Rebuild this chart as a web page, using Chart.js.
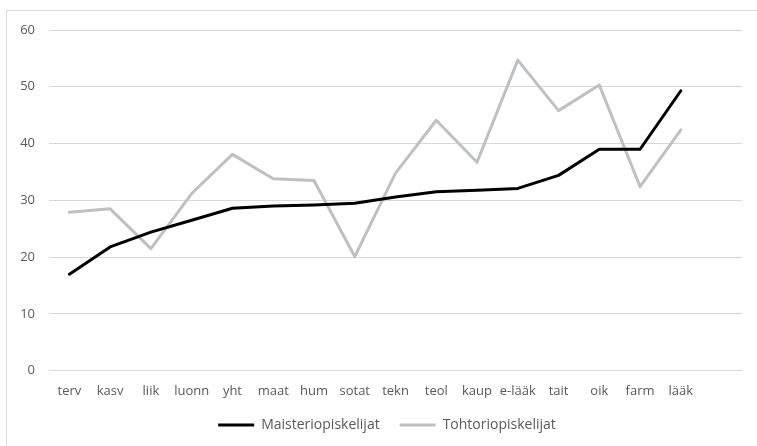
<!DOCTYPE html>
<html>
<head>
<meta charset="utf-8">
<script src="https://cdn.jsdelivr.net/npm/chart.js@4/dist/chart.umd.min.js"></script>
<style>
  html, body { margin: 0; padding: 0; background: #fff; }
  #wrap { width: 757px; height: 446px; }
</style>
</head>
<body>
<div id="wrap"><canvas id="chart" width="757" height="446"></canvas></div>
<script>
  // categories, last slot is left empty like in the original sheet
  var categories = ['terv', 'kasv', 'liik', 'luonn', 'yht', 'maat', 'hum', 'sotat',
      'tekn', 'teol', 'kaup', 'e-lääk', 'tait', 'oik', 'farm', 'lääk'];
  var maisteri = [17.0, 21.8, 24.4, 26.5, 28.6, 29.0, 29.2, 29.5,
      30.6, 31.5, 31.8, 32.1, 34.4, 39.0, 39.0, 49.3];
  var tohtori = [27.9, 28.5, 21.5, 31.2, 38.1, 33.8, 33.5, 20.1,
      34.8, 44.1, 36.7, 54.7, 45.8, 50.3, 32.4, 42.4];
  var yTicks = [0, 10, 20, 30, 40, 50, 60];

  var gridColor = '#d9d9d9';
  var textColor = '#595959';
  var legendPad = 20;

  // outer frame, cut off at right and bottom like the screenshot
  var framePlugin = {
      id: 'frame',
      beforeDraw: function (chart) {
          var ctx = chart.ctx;
          ctx.save();
          ctx.strokeStyle = gridColor;
          ctx.lineWidth = 1;
          ctx.strokeRect(6.5, 10.5, 800, 500);
          ctx.restore();
      }
  };

  // excel centres the legend a bit right of the plot centre
  var legendShift = {
      id: 'legendShift',
      afterLayout: function (chart) {
          var lg = chart.legend;
          var top = 425 - legendPad - 7;
          lg.bottom = top + lg.height;
          lg.top = top;
          lg.left += 16;
          lg.right += 16;
      }
  };

  var ctx = document.getElementById('chart').getContext('2d');
  window.lineChart = new Chart(ctx, {
      type: 'line',
      data: {
          labels: categories.concat(['']),
          datasets: [
              {
                  label: 'Maisteriopiskelijat',
                  data: maisteri,
                  borderColor: '#000000',
                  backgroundColor: '#000000',
                  borderWidth: 3,
                  pointRadius: 0,
                  borderJoinStyle: 'round',
                  borderCapStyle: 'round',
                  tension: 0
              },
              {
                  label: 'Tohtoriopiskelijat',
                  data: tohtori,
                  borderColor: '#bec1c4',
                  backgroundColor: '#bec1c4',
                  borderWidth: 3,
                  pointRadius: 0,
                  borderJoinStyle: 'round',
                  borderCapStyle: 'round',
                  tension: 0
              }
          ]
      },
      options: {
          responsive: false,
          animation: false,
          layout: {
              padding: {left: 0, right: 15, top: 30, bottom: 0}
          },
          plugins: {
              tooltip: {enabled: false},
              legend: {
                  position: 'bottom',
                  labels: {
                      usePointStyle: true,
                      pointStyle: 'line',
                      pointStyleWidth: 36,
                      color: textColor,
                      padding: legendPad,
                      font: {family: 'Open Sans', size: 14}
                  }
              }
          },
          scales: {
              x: {
                  offset: true,
                  grid: {display: false, drawTicks: false},
                  border: {display: false},
                  ticks: {
                      autoSkip: false,
                      maxRotation: 0,
                      padding: 13,
                      color: textColor,
                      font: {family: 'Open Sans', size: 13}
                  },
                  afterFit: function (scale) { scale.height = 31.3; }
              },
              y: {
                  min: 0,
                  max: 60,
                  grid: {color: gridColor, lineWidth: 1, drawTicks: false},
                  border: {display: false},
                  afterBuildTicks: function (scale) {
                      scale.ticks = yTicks.map(function (v) { return {value: v}; });
                  },
                  ticks: {
                      padding: 14,
                      color: textColor,
                      font: {family: 'Open Sans', size: 13}
                  },
                  afterFit: function (scale) { scale.width = 49; }
              }
          }
      },
      plugins: [framePlugin, legendShift]
  });
</script>
</body>
</html>
